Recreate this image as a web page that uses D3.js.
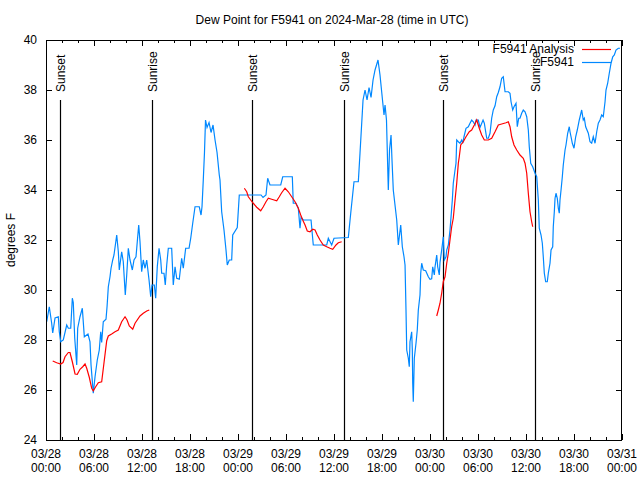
<!DOCTYPE html>
<html>
<head>
<meta charset="utf-8">
<script src="https://cdn.jsdelivr.net/npm/d3@7"></script>
<style>
  html, body { margin: 0; padding: 0; background: #fff; }
  svg { display: block; }
  text { font-family: "Liberation Sans", Arial, sans-serif; font-size: 12px; fill: #000; }
</style>
</head>
<body>
<svg id="chart" width="640" height="480"></svg>
<script>
// ---- data (hours since 2024-03-28 00:00 UTC) ----
const stationHours = [0.09,0.41,0.71,0.84,1.13,1.54,1.66,1.84,2.16,2.59,2.79,3.09,3.29,3.41,3.59,3.84,3.96,4.25,4.54,4.79,5.25,5.5,5.63,5.91,6.13,6.41,6.66,6.84,6.96,7.16,7.5,7.63,7.79,8.0,8.13,8.34,8.5,8.84,9.04,9.16,9.46,9.66,9.91,10.09,10.29,10.5,10.79,11.0,11.25,11.41,11.59,11.75,11.96,12.16,12.38,12.59,12.88,13.09,13.25,13.54,13.71,13.91,14.13,14.34,14.46,14.75,14.91,15.09,15.29,15.71,15.91,16.13,16.34,16.66,16.96,17.16,17.46,17.88,18.09,18.34,18.63,19.16,19.38,19.5,19.66,19.81,19.94,20.13,20.38,20.63,20.88,21.13,21.38,21.66,21.75,21.96,22.25,22.5,22.66,22.91,23.21,23.34,23.91,24.16,26.88,27.13,27.5,27.71,28.0,29.34,29.59,30.79,30.91,31.25,31.54,31.75,31.88,32.16,33.13,33.41,35.09,35.29,35.71,36.0,37.79,38.09,38.5,39.04,39.25,39.63,39.88,40.13,40.38,40.63,40.88,41.13,41.5,41.75,42.0,42.25,42.38,42.56,42.79,42.94,43.13,43.25,43.41,43.84,44.04,44.34,44.54,44.75,44.88,45.0,45.09,45.29,45.41,45.5,45.71,45.79,45.84,45.91,46.04,46.25,46.41,46.54,46.75,46.84,46.96,47.16,47.46,47.79,48.0,48.21,48.34,48.54,48.63,48.84,48.96,49.16,49.25,49.46,49.59,49.66,49.79,50.0,50.09,50.29,50.5,50.63,50.79,50.91,51.13,51.25,51.34,51.54,51.75,51.96,52.09,52.25,52.5,52.79,53.0,53.21,53.41,53.63,53.75,54.04,54.25,54.63,54.79,55.09,55.29,55.5,55.71,55.91,56.13,56.34,56.54,56.75,56.96,57.16,57.38,57.79,58.0,58.13,58.34,58.5,58.75,58.91,59.09,59.25,59.46,59.66,59.88,60.09,60.29,60.41,60.59,60.84,61.13,61.34,61.54,61.66,61.88,62.04,62.16,62.29,62.46,62.66,62.79,63.0,63.13,63.34,63.41,63.54,63.63,63.75,63.91,64.04,64.16,64.25,64.38,64.54,64.66,64.88,65.0,65.21,65.41,65.5,65.63,65.79,66.0,66.21,66.41,66.66,66.96,67.16,67.29,67.46,67.79,68.0,68.21,68.41,68.63,68.84,69.04,69.25,69.46,69.66,69.88,70.0,70.21,70.41,70.63,70.84,71.04,71.25,71.54,71.75];
const stationValues = [28.73,29.33,28.67,28.28,28.88,28.93,28.33,27.93,28.0,28.6,28.47,28.47,29.67,29.5,28.08,27.0,28.47,28.93,29.27,28.13,28.24,27.93,27.0,25.87,26.53,27.2,27.6,28.33,27.9,28.73,28.83,29.33,30.13,30.53,30.87,31.2,31.4,32.2,31.53,30.8,31.53,31.13,29.8,30.6,31.67,31.2,30.8,31.2,31.33,31.93,32.6,31.93,30.73,31.2,30.87,31.2,30.4,29.73,30.2,30.2,29.67,30.93,31.67,31.2,30.67,30.67,30.2,31.0,31.67,31.67,30.2,30.93,30.47,30.43,31.27,30.87,31.67,31.67,32.07,32.67,33.33,33.33,33.0,33.33,34.4,35.5,36.8,36.5,36.7,36.3,36.6,36.0,35.5,34.6,34.4,33.13,32.4,31.6,31.0,31.2,31.2,32.2,32.5,33.8,33.8,33.7,33.8,34.47,34.2,34.2,34.53,34.53,33.47,33.47,33.27,32.47,32.9,32.8,32.8,31.8,31.8,32.07,31.8,32.07,32.1,33.07,34.33,34.33,35.47,37.6,38.0,37.6,38.1,37.7,38.4,38.8,39.2,38.6,37.8,37.0,37.4,36.8,34.0,35.6,36.2,35.2,34.0,32.8,31.8,32.6,31.73,31.33,31.0,29.2,27.6,27.27,26.93,27.93,28.33,27.6,26.27,25.53,27.27,27.87,28.4,29.2,29.8,30.67,31.07,30.8,30.77,30.53,30.43,30.45,30.93,30.6,30.93,31.4,30.93,30.6,31.1,31.6,31.93,32.13,31.2,31.33,31.6,31.8,32.4,32.93,33.6,34.27,34.8,35.07,36.0,35.93,35.87,36.0,35.87,36.13,36.47,36.53,36.67,36.8,36.73,36.6,36.8,36.8,36.5,36.8,36.67,36.07,36.07,36.27,36.87,37.2,37.37,37.73,37.9,38.13,38.47,38.53,37.93,37.93,37.87,37.53,37.2,37.33,37.47,36.53,36.87,36.87,37.07,37.2,37.13,36.93,36.4,35.73,35.07,34.93,34.67,34.53,33.6,32.47,32.2,31.87,31.33,30.67,30.33,30.33,30.67,31.07,31.6,31.73,32.53,33.13,33.67,33.87,33.67,33.27,33.07,33.6,34.0,34.53,35.0,35.6,35.8,36.27,36.53,36.33,36.13,35.87,35.67,36.13,36.4,36.8,37.2,36.8,36.87,36.53,36.27,35.93,35.87,36.13,35.87,36.33,36.67,36.8,37.0,36.93,37.53,38.0,38.27,38.67,39.07,39.33,39.4,39.6,39.67,39.67];

// analysis: NaN separates the three runs
const analysisHours = [0.84,1.34,1.84,2.13,2.38,2.79,3.0,3.29,3.63,3.91,4.25,4.59,4.88,5.09,5.41,5.71,5.91,6.21,6.54,6.96,7.25,7.59,7.79,8.21,8.63,9.04,9.46,9.88,10.13,10.41,10.84,11.13,11.75,12.16,12.59,12.91,
  NaN,
  24.79,25.09,25.29,25.59,25.91,26.34,26.84,27.16,27.5,27.79,28.21,28.84,29.16,29.46,29.88,30.29,30.71,31.13,31.54,31.84,32.09,32.38,32.66,33.0,33.34,33.63,33.91,34.25,34.66,35.09,35.5,35.84,36.25,36.54,36.96,
  NaN,
  48.84,49.04,49.25,49.46,49.66,49.88,50.09,50.29,50.5,50.71,50.91,51.13,51.34,51.54,51.66,51.84,52.16,52.5,52.91,53.21,53.54,53.84,54.16,54.46,54.79,55.29,55.71,56.13,56.54,56.96,57.5,57.79,58.0,58.21,58.5,58.84,59.25,59.66,59.88,60.09,60.29,60.5,60.71,60.84];
const analysisValues = [27.16,27.09,27.04,27.1,27.33,27.5,27.5,27.13,26.64,26.63,26.83,26.93,27.04,26.87,26.51,26.07,25.97,26.13,26.29,26.33,27.09,27.97,28.16,28.24,28.33,28.4,28.73,28.93,28.8,28.56,28.43,28.67,28.96,29.07,29.16,29.2,
  NaN,
  34.07,33.93,33.73,33.6,33.47,33.31,33.17,33.33,33.53,33.67,33.63,33.57,33.73,33.89,34.07,33.93,33.73,33.53,33.27,33.0,32.8,32.6,32.36,32.33,32.43,32.4,32.2,32.0,31.8,31.73,31.67,31.63,31.8,31.89,31.93,
  NaN,
  28.96,29.2,29.47,29.87,30.33,30.53,31.07,31.47,32.0,32.53,32.87,33.6,34.27,35.07,35.33,35.8,35.93,36.13,36.33,36.4,36.6,36.8,36.47,36.2,36.0,36.0,36.07,36.33,36.6,36.64,36.69,36.73,36.53,36.13,35.8,35.6,35.4,35.27,35.07,34.67,33.87,33.13,32.73,32.53];

const sunsetHours = [1.79, 25.79, 49.66];
const sunriseHours = [13.29, 37.29, 61.16];
const yTicks = [24, 26, 28, 30, 32, 34, 36, 38, 40];
const seriesNames = ["F5941 Analysis", "F5941"];
const seriesColors = ["#ff0000", "#0088ff"];
const titleText = "Dew Point for F5941 on 2024-Mar-28 (time in UTC)";
const yLabelText = "degrees F";

// ---- drawing ----
const base = Date.UTC(2024, 2, 28, 0, 0);
const toDate = h => new Date(base + h * 3600e3);
const L = 46, R = 622, T = 40, B = 440;
const svg = d3.select("#chart");

const x = d3.scaleUtc().domain([toDate(0), toDate(72)]).range([L, R]);
const y = d3.scaleLinear().domain([24, 40]).range([B, T]);

const station = stationHours.map((h, i) => ({ t: toDate(h), v: stationValues[i] }));
const analysis = analysisHours.map((h, i) => ({ t: isNaN(h) ? null : toDate(h), v: analysisValues[i] }));

svg.append("text").attr("x", 332).attr("y", 24).attr("text-anchor", "middle").text(titleText);

// axes ticks
const fmtD = d3.utcFormat("%m/%d"), fmtT = d3.utcFormat("%H:%M");
const majorX = d3.utcHour.every(6).range(toDate(0), toDate(72.01));
const minorX = d3.utcHour.every(2).range(toDate(0), toDate(72.01));

const ax = svg.append("g").attr("stroke", "#000").attr("stroke-width", 1);
minorX.forEach(d => {
  const xx = Math.round(x(d)) + 0.5;
  ax.append("line").attr("x1", xx).attr("x2", xx).attr("y1", B).attr("y2", B - 3);
  ax.append("line").attr("x1", xx).attr("x2", xx).attr("y1", T).attr("y2", T + 3);
});
majorX.forEach(d => {
  const xx = Math.round(x(d)) + 0.5;
  ax.append("line").attr("x1", xx).attr("x2", xx).attr("y1", B).attr("y2", B - 6);
  ax.append("line").attr("x1", xx).attr("x2", xx).attr("y1", T).attr("y2", T + 6);
});
yTicks.forEach(v => {
  const yy = Math.round(y(v)) + 0.5;
  ax.append("line").attr("x1", L).attr("x2", L + 6).attr("y1", yy).attr("y2", yy);
  ax.append("line").attr("x1", R).attr("x2", R - 6).attr("y1", yy).attr("y2", yy);
});

const xl = svg.append("g");
majorX.forEach(d => {
  const t = xl.append("text").attr("text-anchor", "middle");
  t.append("tspan").attr("x", x(d)).attr("y", 458).text(fmtD(d));
  t.append("tspan").attr("x", x(d)).attr("y", 472).text(fmtT(d));
});
const yl = svg.append("g");
yTicks.forEach(v => {
  yl.append("text").attr("x", 37).attr("y", y(v) + 4).attr("text-anchor", "end").text(v);
});
svg.append("text").attr("transform", "translate(15,240) rotate(-90)").attr("text-anchor", "middle").text(yLabelText);

// sun events
const sun = svg.append("g");
[[sunsetHours, "Sunset"], [sunriseHours, "Sunrise"]].forEach(([arr, lab]) => {
  arr.forEach(h => {
    const xx = Math.round(x(toDate(h))) + 0.5;
    sun.append("line").attr("x1", xx).attr("x2", xx).attr("y1", 100).attr("y2", B)
      .attr("stroke", "#000").attr("stroke-width", 1.2);
    sun.append("text").attr("transform", `translate(${xx + 4.5},92) rotate(-90)`)
      .attr("text-anchor", "start").text(lab);
  });
});

// lines
svg.append("path").datum(station)
  .attr("fill", "none").attr("stroke", seriesColors[1]).attr("stroke-width", 1.2)
  .attr("d", d3.line().x(d => x(d.t)).y(d => y(d.v)));
svg.append("path").datum(analysis)
  .attr("fill", "none").attr("stroke", seriesColors[0]).attr("stroke-width", 1.2)
  .attr("d", d3.line().defined(d => d.t !== null && !isNaN(d.v)).x(d => x(d.t)).y(d => y(d.v)));

// legend
seriesNames.forEach((n, i) => {
  const yy = 49 + i * 13;
  svg.append("text").attr("x", 574).attr("y", yy + 4).attr("text-anchor", "end").text(n);
  svg.append("line").attr("x1", 582).attr("x2", 611).attr("y1", yy + 0.5).attr("y2", yy + 0.5)
    .attr("stroke", seriesColors[i]).attr("stroke-width", 1.2);
});

// frame
svg.append("rect").attr("x", L + 0.5).attr("y", T + 0.5).attr("width", R - L - 1).attr("height", B - T)
  .attr("fill", "none").attr("stroke", "#000").attr("stroke-width", 1);
</script>
</body>
</html>
